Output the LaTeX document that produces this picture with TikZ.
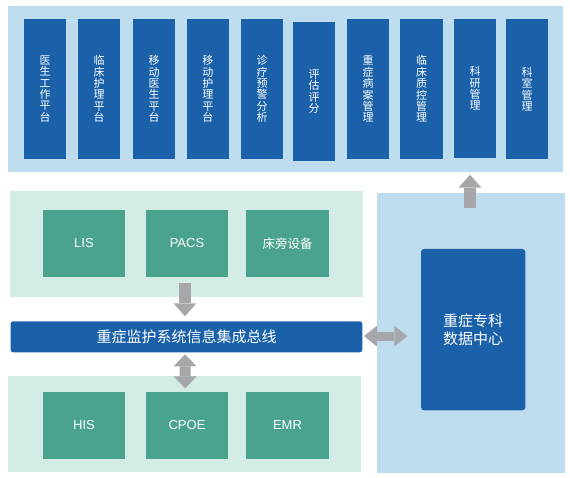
\documentclass[tikz,border=0pt]{standalone}
\usepackage{fontspec}
\setmainfont{Liberation Sans}
\newfontfamily\cjk{Noto Sans CJK SC}
\usetikzlibrary{arrows.meta,calc}
\definecolor{lightblue}{HTML}{BDDCED}
\definecolor{darkblue}{HTML}{1A61A9}
\definecolor{lightgreen}{HTML}{D3ECE5}
\definecolor{boxgreen}{HTML}{4AA38D}
\definecolor{arrowgray}{HTML}{A7A7AB}
\tikzset{
  panel/.style={inner sep=0pt, outer sep=0pt, anchor=north west},
  topbox/.style={fill=darkblue, text=white, inner sep=0pt, outer sep=0pt,
    minimum width=42pt, minimum height=140pt, anchor=north west,
    font=\cjk\fontsize{11}{11.4}\selectfont, align=center},
  greenbox/.style={fill=boxgreen, text=white, inner sep=0pt, outer sep=0pt,
    minimum width=82pt, minimum height=67pt, anchor=north west,
    font=\fontsize{13}{15}\selectfont},
  singlearrow/.style={draw=arrowgray, line width=12pt,
    -{Triangle[width=23pt,length=13pt,line width=0pt]}},
  doublearrow/.style={draw=arrowgray, line width=11pt,
    {Triangle[width=23pt,length=12pt,line width=0pt]}-{Triangle[width=23pt,length=12pt,line width=0pt]}},
  harrow/.style={draw=arrowgray, line width=9pt,
    {Triangle[width=21pt,length=13pt,line width=0pt]}-{Triangle[width=21pt,length=13pt,line width=0pt]}}
}
\begin{document}
\begin{tikzpicture}[x=1pt,y=-1pt]
\useasboundingbox (0,0) rectangle (570,478);
% panels
\node[panel, fill=lightblue, minimum width=555pt, minimum height=166pt] (top) at (8,6) {};
\node[panel, fill=lightblue, minimum width=188pt, minimum height=279.7pt] (rp) at (377,193) {};
\node[panel, fill=lightgreen, minimum width=352.7pt, minimum height=105.7pt] (gup) at (10,191) {};
\node[panel, fill=lightgreen, minimum width=353pt, minimum height=96pt] (glow) at (8,375.7) {};
% top boxes
\node[topbox] (t1) at (24,19) {医\\生\\工\\作\\平\\台};
\node[topbox] (t2) at (78,19) {临\\床\\护\\理\\平\\台};
\node[topbox] (t3) at (133,19) {移\\动\\医\\生\\平\\台};
\node[topbox] (t4) at (186.8,19) {移\\动\\护\\理\\平\\台};
\node[topbox] (t5) at (241,19) {诊\\疗\\预\\警\\分\\析};
\node[topbox, minimum height=138.7pt] (t6) at (293,22) {评\\估\\评\\分};
\node[topbox] (t7) at (347.1,19) {重\\症\\病\\案\\管\\理};
\node[topbox, minimum width=43.2pt] (t8) at (399.9,19) {临\\床\\质\\控\\管\\理};
\node[topbox, minimum height=138.7pt] (t9) at (454,19) {科\\研\\管\\理};
\node[topbox] (t10) at (506,19) {科\\室\\管\\理};
% green boxes
\node[greenbox] (lis) at (43,210) {LIS};
\node[greenbox] (pacs) at (146,210) {PACS};
\node[greenbox, font=\cjk\fontsize{12.5}{15}\selectfont, minimum width=83pt] (bed) at (246,210) {床旁设备};
\node[greenbox] (his) at (43,392) {HIS};
\node[greenbox] (cpoe) at (146,392) {CPOE};
\node[greenbox, minimum width=83pt] (emr) at (246,392) {EMR};
% bus
\node[fill=darkblue, text=white, rounded corners=2.5pt, inner sep=0pt, outer sep=0pt,
  minimum width=351.6pt, minimum height=31pt, anchor=north west,
  font=\cjk\fontsize{15}{18}\selectfont] (bus) at (10.7,321.3) {重症监护系统信息集成总线};
% data center
\node[fill=darkblue, text=white, rounded corners=3pt, inner sep=0pt, outer sep=0pt,
  minimum width=104.3pt, minimum height=161.3pt, anchor=north west, align=center,
  font=\cjk\fontsize{15}{18.5}\selectfont] (dc) at (421,249) {重症专科\\数据中心};
% arrows
\coordinate (a1s) at ($(pacs.south)+(-2,6)$);
\coordinate (a1e) at ($(bus.north)+(-1.5,-5)$);
\draw[singlearrow] (a1s) -- (a1e);
\coordinate (a2s) at ($(bus.south)+(-1.5,2)$);
\coordinate (a2e) at ($(cpoe.north)+(-1.8,-3.7)$);
\draw[doublearrow] (a2s) -- (a2e);
\coordinate (a3s) at ($(bus.east)+(1.7,-0.7)$);
\coordinate (a3e) at ($(dc.west |- bus.east)+(-13.7,-0.7)$);
\draw[harrow] (a3s) -- (a3e);
\coordinate (a4s) at ($(rp.north)+(-1,14.7)$);
\coordinate (a4e) at ($(rp.north)+(-1,-18.3)$);
\draw[singlearrow] (a4s) -- (a4e);
\end{tikzpicture}
\end{document}
